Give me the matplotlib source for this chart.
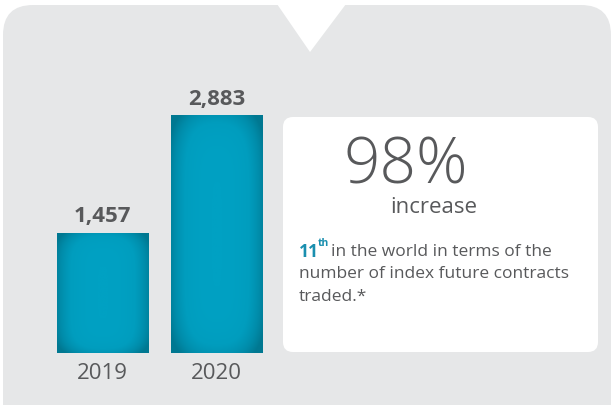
import numpy as np
import matplotlib.pyplot as plt
from matplotlib.patches import FancyBboxPatch, Polygon
from matplotlib.colors import LinearSegmentedColormap

years = ['2019', '2020']
contracts = [1457, 2883]
value_labels = ['1,457', '2,883']
big_stat = '98%'
big_stat_sub = 'increase'
rank_lead = '11'
rank_sup = 'th'
rank_text = ['in the world in terms of the',
             'number of index future contracts',
             'traded.*']

grey_bg = '#e6e7e8'
text_grey = '#58595b'
teal = '#1a8faf'

plt.rcParams['font.family'] = ['Open Sans', 'DejaVu Sans']

fig = plt.figure(figsize=(6.12, 4.05), dpi=100)
fig.patch.set_facecolor('white')

# full-figure axes in pixel coordinates for the card shapes and texts
bg = fig.add_axes([0, 0, 1, 1])
bg.set_xlim(0, 612)
bg.set_ylim(405, 0)
bg.axis('off')

bg.add_patch(FancyBboxPatch((3, 5), 608, 440, boxstyle='round,pad=0,rounding_size=30',
                            fc=grey_bg, ec='none'))
bg.add_patch(Polygon([(277, 4), (346, 4), (310, 52)], closed=True, fc='white', ec='none'))
bg.add_patch(FancyBboxPatch((283, 117), 315, 235, boxstyle='round,pad=0,rounding_size=10',
                            fc='white', ec='none'))

bg.text(406, 183, big_stat, fontsize=46, color=text_grey, ha='center', va='baseline',
        fontweight='light')
bg.text(477, 213, big_stat_sub, fontsize=16, color=text_grey, ha='right', va='baseline')

bg.text(299, 252, rank_lead, fontsize=12.5, color=teal, fontweight='bold', ha='left', va='center')
bg.text(317.5, 243, rank_sup, fontsize=7.5, color=teal, fontweight='bold', ha='left', va='center')
bg.text(331, 252, rank_text[0], fontsize=12.5, color=text_grey, ha='left', va='center')
bg.text(299, 274, rank_text[1], fontsize=12.5, color=text_grey, ha='left', va='center')
bg.text(299, 297, rank_text[2], fontsize=12.5, color=text_grey, ha='left', va='center')

# bar axes: y=0 at 353px, 3000 units = 247px
ax = fig.add_axes([45.5 / 612, (405 - 353) / 405, 228 / 612, 247.2 / 405])
ax.set_xlim(-0.5, 1.5)
ax.set_ylim(0, 3000)
ax.patch.set_alpha(0)
for s in ax.spines.values():
    s.set_visible(False)
ax.set_yticks([])

cmap = LinearSegmentedColormap.from_list('bar', ['#00a1c3', '#009dbe', '#008caa', '#007891'])
bars = ax.bar(range(len(years)), contracts, width=0.8, color='none', ec='none')
ny, nx = 200, 80
u = np.linspace(-1, 1, nx)
v = np.linspace(-1, 1, ny)
U, V = np.meshgrid(u, v)
shade = np.clip(np.abs(U) ** 2.5 * 0.8 + np.abs(V) ** 6 * 0.5, 0, 1)
for b in bars:
    x0, w, h = b.get_x(), b.get_width(), b.get_height()
    im = ax.imshow(shade, cmap=cmap, vmin=0, vmax=1, extent=(x0, x0 + w, 0, h),
                   aspect='auto', interpolation='bilinear', zorder=2)
    im.set_clip_path(b)

for i, (val, lab) in enumerate(zip(contracts, value_labels)):
    ax.annotate(lab, (i, val), xytext=(0, 4), textcoords='offset points', ha='center',
                va='bottom', fontsize=16, fontweight='bold', color=text_grey)

ax.set_xticks(range(len(years)))
ax.set_xticklabels(years, fontsize=16, color=text_grey)
ax.tick_params(axis='x', length=0, pad=7)
ax.set_xlim(-0.5, 1.5)
ax.set_ylim(0, 3000)

fig.savefig('out.png', dpi=100)
